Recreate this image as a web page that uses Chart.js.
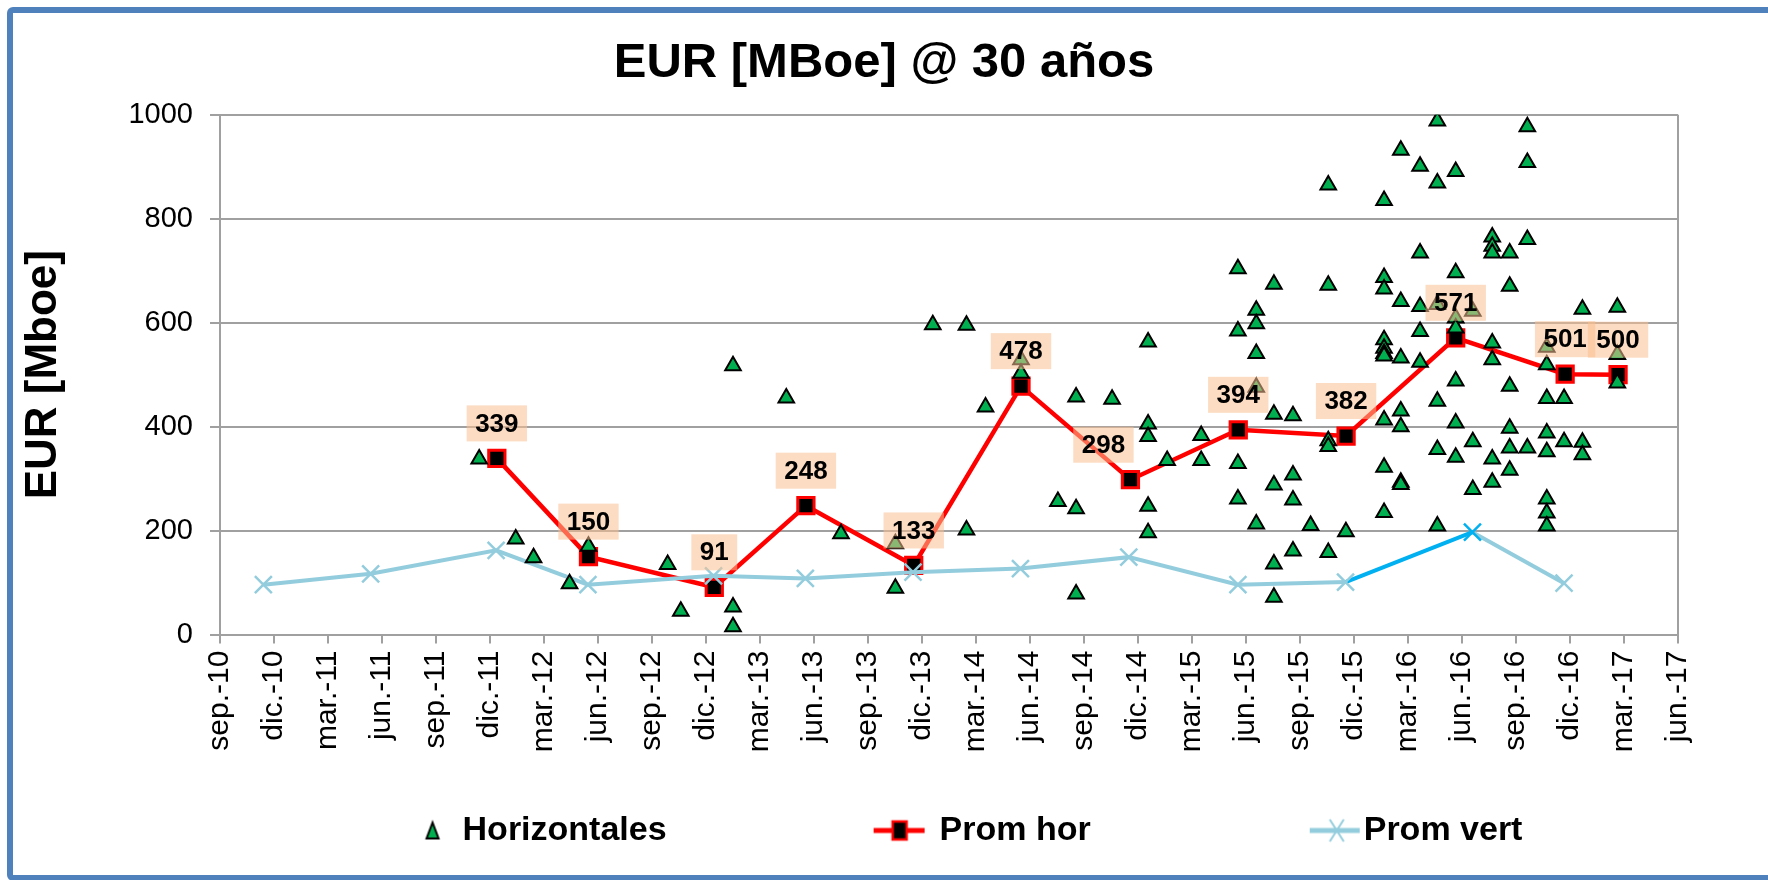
<!DOCTYPE html>
<html lang="es">
<head>
<meta charset="utf-8">
<title>EUR [MBoe] @ 30 años</title>
<script src="https://cdn.jsdelivr.net/npm/chart.js@4.4.1/dist/chart.umd.min.js"></script>
<style>
  html, body { margin: 0; padding: 0; background: #fff; overflow: hidden; }
  #wrap { position: relative; width: 1768px; height: 880px; overflow: hidden; }
  #chart { position: absolute; left: 0; top: 0; }
  #frame {
    position: absolute; left: 7px; top: 7px; width: 1775px; height: 874px;
    box-sizing: border-box; border: 6px solid #4f81bd; border-radius: 6px;
    pointer-events: none;
  }
</style>
</head>
<body>
<div id="wrap">
  <canvas id="chart" width="1768" height="880"></canvas>
  <div id="frame"></div>
</div>
<script>
// x values are months counted from sep. 2010 (0) up to jun. 2017 (81)
const xTickLabels = [
  'sep.-10', 'dic.-10', 'mar.-11', 'jun.-11', 'sep.-11', 'dic.-11', 'mar.-12',
  'jun.-12', 'sep.-12', 'dic.-12', 'mar.-13', 'jun.-13', 'sep.-13', 'dic.-13',
  'mar.-14', 'jun.-14', 'sep.-14', 'dic.-14', 'mar.-15', 'jun.-15', 'sep.-15',
  'dic.-15', 'mar.-16', 'jun.-16', 'sep.-16', 'dic.-16', 'mar.-17', 'jun.-17'
];

// Horizontales: one column of wells per date
const horMonths = [
  14.4, 16.43, 17.42, 19.42, 20.47, 24.87, 25.6, 28.5, 31.46, 34.5,
  37.52, 39.6, 41.47, 42.53, 44.5, 46.55, 47.56, 49.56, 51.56, 52.62,
  54.51, 56.55, 57.57, 58.55, 59.61, 60.59, 61.57, 62.55, 64.67, 65.6,
  66.67, 67.63, 68.65, 69.6, 70.68, 71.65, 72.63, 73.71, 74.67, 75.69, 77.63
];
const horEur = [
  [338], [184], [148], [98], [170], [135], [45], [517, 53, 15], [455], [194],
  [175, 89], [596], [595, 201], [438], [529, 503], [256], [457, 242, 78], [453],
  [563, 405, 381, 247, 196], [335],
  [383, 335], [704, 584, 329, 261], [624, 598, 541, 476, 213],
  [674, 424, 288, 136, 72], [421, 307, 259, 161], [210],
  [865, 672, 373, 362, 158], [198],
  [835, 687, 665, 567, 551, 541, 536, 413, 322, 235],
  [932, 641, 532, 430, 400, 293, 289],
  [901, 734, 631, 583, 524], [988, 869, 635, 449, 356, 209],
  [891, 696, 609, 590, 488, 407, 341], [622, 371, 279],
  [765, 747, 734, 561, 529, 338, 293], [734, 670, 478, 397, 359, 316],
  [977, 908, 760, 359], [553, 519, 454, 388, 352, 261, 234, 209],
  [454, 371], [626, 370, 346], [630, 539, 484]
];

const promHorMonths = [15.38, 20.47, 27.46, 32.55, 38.54, 44.5, 50.58, 56.57, 62.56, 68.65, 74.73, 77.67];
const promHorEur = [339, 150, 91, 248, 133, 478, 298, 394, 382, 571, 501, 500];

const promVertMonths = [2.41, 8.37, 15.34, 20.44, 27.42, 32.52, 38.5, 44.47, 50.49, 56.55, 62.53, 69.58, 74.67];
const promVertEur = [96, 117, 162, 96, 113, 108, 120, 127, 149, 96, 101, 197, 99];

const horPoints = [];
horMonths.forEach((m, i) => horEur[i].forEach(v => horPoints.push({ x: m, y: v })));
const promHorPoints = promHorMonths.map((m, i) => ({ x: m, y: promHorEur[i] }));
const promVertPoints = promVertMonths.map((m, i) => ({ x: m, y: promVertEur[i] }));

const FONT = '"Liberation Sans", Arial, sans-serif';
Chart.defaults.font.family = FONT;
Chart.defaults.color = '#000';

const GRID = '#a0a0a0';
const LIGHT_BLUE = '#93cddd';
const BRIGHT_BLUE = '#00b0f0';

// legend samples (line + marker). The legend box is ICON_W wide; the canvas
// sticks out 14px on both sides so the sample can sit close to its text.
const ICON_W = 200;
const OVER = 14;
function legendIcon(draw) {
  const c = document.createElement('canvas');
  c.width = ICON_W + 2 * OVER;
  c.height = 30;
  draw(c.getContext('2d'), ICON_W + OVER);
  return c;
}
const legendIcons = [
  legendIcon((g, e) => {
    const x = e - 13;
    g.beginPath();
    g.moveTo(x, 7); g.lineTo(x + 6, 23); g.lineTo(x - 6, 23); g.closePath();
    g.fillStyle = '#00b050'; g.fill();
    g.lineWidth = 2; g.strokeStyle = '#000'; g.stroke();
  }),
  legendIcon((g, e) => {
    const x = e - 23;
    g.strokeStyle = '#ff0000'; g.lineWidth = 5;
    g.beginPath(); g.moveTo(e - 49, 15); g.lineTo(e + 2, 15); g.stroke();
    g.fillStyle = '#000'; g.fillRect(x - 7, 6, 14, 18);
    g.lineWidth = 2.5; g.strokeRect(x - 7, 6, 14, 18);
  }),
  legendIcon((g, e) => {
    const x = e - 10;
    g.strokeStyle = LIGHT_BLUE; g.lineWidth = 5;
    g.beginPath(); g.moveTo(e - 37, 15); g.lineTo(e + 13, 15); g.stroke();
    g.lineWidth = 2;
    g.beginPath();
    g.moveTo(x - 7, 4); g.lineTo(x + 7, 26);
    g.moveTo(x + 7, 4); g.lineTo(x - 7, 26);
    g.stroke();
  })
];

// value boxes above the "Prom hor" squares
const labelShift = { 6: -27 }; // the 298 box sits left of its point
const promLabels = {
  id: 'promLabels',
  afterDatasetsDraw(chart) {
    const meta = chart.getDatasetMeta(1);
    const ctx = chart.ctx;
    ctx.save();
    ctx.font = 'bold 26px ' + FONT;
    ctx.textAlign = 'center';
    ctx.textBaseline = 'middle';
    meta.data.forEach((pt, i) => {
      const text = String(promHorEur[i]);
      const w = ctx.measureText(text).width + 17;
      const cx = pt.x + (labelShift[i] || 0);
      const cy = pt.y - 35;
      ctx.fillStyle = 'rgba(250, 192, 143, 0.55)';
      ctx.fillRect(cx - w / 2, cy - 18, w, 36);
      ctx.fillStyle = '#000';
      ctx.fillText(text, cx, cy + 1);
    });
    ctx.restore();
  }
};

new Chart(document.getElementById('chart'), {
  type: 'scatter',
  data: {
    datasets: [
      {
        label: 'Horizontales',
        data: horPoints,
        order: 0,
        pointStyle: 'triangle',
        pointRadius: 9,
        pointBackgroundColor: '#00b050',
        pointBorderColor: '#000',
        pointBorderWidth: 2
      },
      {
        label: 'Prom hor',
        data: promHorPoints,
        order: 2,
        showLine: true,
        borderColor: '#ff0000',
        borderWidth: 4.5,
        pointStyle: 'rect',
        pointRadius: 11.5,
        pointBackgroundColor: '#000',
        pointBorderColor: '#ff0000',
        pointBorderWidth: 3
      },
      {
        label: 'Prom vert',
        data: promVertPoints,
        order: 1,
        showLine: true,
        borderColor: LIGHT_BLUE,
        borderWidth: 4,
        segment: {
          borderColor: c => (c.p0DataIndex === 10 ? BRIGHT_BLUE : undefined)
        },
        pointStyle: 'crossRot',
        pointRadius: 12,
        pointBorderColor: c => (c.dataIndex === 11 ? BRIGHT_BLUE : LIGHT_BLUE),
        pointBorderWidth: 2.5
      }
    ]
  },
  options: {
    responsive: false,
    animation: false,
    layout: { padding: { top: 0, left: 0, right: 0, bottom: 22.5 } },
    plugins: {
      title: {
        display: true,
        text: 'EUR [MBoe] @ 30 años',
        font: { size: 49, weight: 'bold' },
        color: '#000',
        padding: { top: 34, bottom: 22 }
      },
      legend: {
        position: 'bottom',
        labels: {
          usePointStyle: true,
          pointStyleWidth: ICON_W,
          padding: 56,
          color: '#000',
          font: { size: 34, weight: 'bold' },
          sort: (a, b) => a.datasetIndex - b.datasetIndex,
          generateLabels(chart) {
            const items = Chart.defaults.plugins.legend.labels.generateLabels(chart);
            items.forEach(it => { it.pointStyle = legendIcons[it.datasetIndex]; });
            return items;
          }
        }
      },
      tooltip: { enabled: false }
    },
    scales: {
      x: {
        type: 'linear',
        position: 'bottom',
        min: 0,
        max: 81,
        afterFit: s => { s.height = 122.9; },
        ticks: {
          stepSize: 3,
          autoSkip: false,
          minRotation: 90,
          maxRotation: 90,
          padding: 7,
          font: { size: 30 },
          color: '#000',
          callback: v => xTickLabels[Math.round(v / 3)]
        },
        grid: {
          color: c => (c.tick && c.tick.value === 81 ? GRID : 'rgba(0,0,0,0)'),
          tickColor: GRID,
          tickLength: 9,
          lineWidth: 2
        },
        border: { color: GRID, width: 2 }
      },
      y: {
        min: 0,
        max: 1000,
        afterFit: s => { s.width = 220; },
        ticks: {
          stepSize: 200,
          padding: 17,
          font: { size: 29 },
          color: '#000',
          callback: v => String(v)
        },
        grid: { color: GRID, lineWidth: 2, tickLength: 10 },
        border: { color: GRID, width: 2 },
        title: {
          display: true,
          text: 'EUR [Mboe]',
          font: { size: 44, weight: 'bold' },
          color: '#000',
          padding: { top: 17, bottom: 0 }
        }
      },
      y2: {
        position: 'right',
        min: 0,
        max: 1000,
        afterFit: s => { s.width = 90; },
        ticks: { display: false },
        grid: { display: false },
        border: { display: false }
      }
    }
  },
  plugins: [promLabels]
});
</script>
</body>
</html>
